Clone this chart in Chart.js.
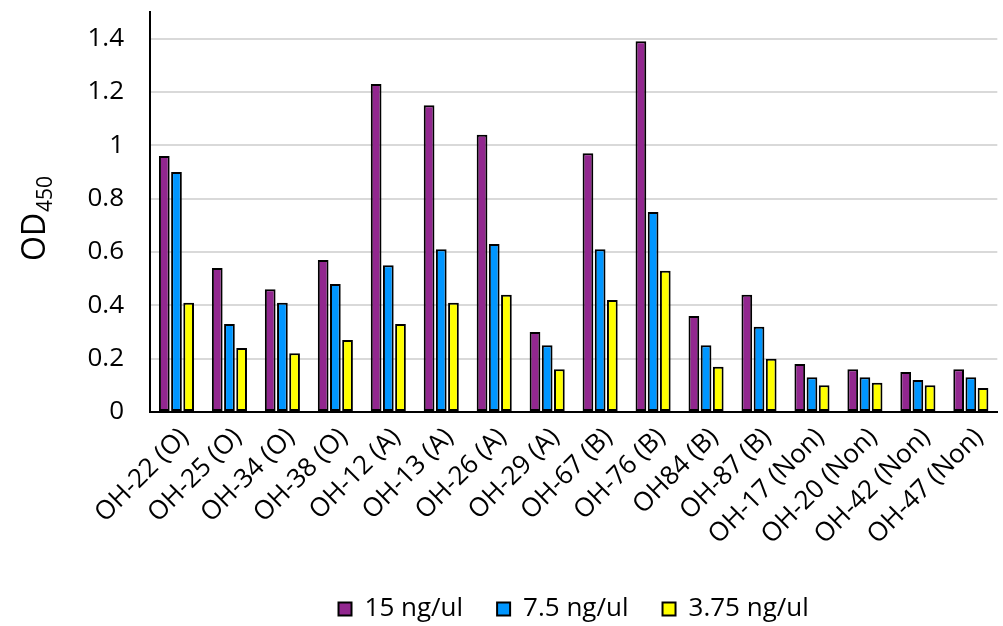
<!DOCTYPE html>
<html>
<head>
<meta charset="utf-8">
<script src="https://cdn.jsdelivr.net/npm/chart.js@4.4.1/dist/chart.umd.min.js"></script>
<style>
  html, body { margin: 0; padding: 0; background: #ffffff; }
  #wrap { width: 1003px; height: 626px; }
</style>
</head>
<body>
<div id="wrap"><canvas id="c" width="1003" height="626"></canvas></div>
<script>
const categories = ['OH-22 (O)', 'OH-25 (O)', 'OH-34 (O)', 'OH-38 (O)', 'OH-12 (A)', 'OH-13 (A)', 'OH-26 (A)', 'OH-29 (A)', 'OH-67 (B)', 'OH-76 (B)', 'OH84 (B)', 'OH-87 (B)', 'OH-17 (Non)', 'OH-20 (Non)', 'OH-42 (Non)', 'OH-47 (Non)'];
const seriesNames = ['15 ng/ul', '7.5 ng/ul', '3.75 ng/ul'];
const values15 = [0.96, 0.54, 0.46, 0.57, 1.23, 1.15, 1.04, 0.30, 0.97, 1.39, 0.36, 0.44, 0.18, 0.16, 0.15, 0.16];
const values75 = [0.90, 0.33, 0.41, 0.48, 0.55, 0.61, 0.63, 0.25, 0.61, 0.75, 0.25, 0.32, 0.13, 0.13, 0.12, 0.13];
const values375 = [0.41, 0.24, 0.22, 0.27, 0.33, 0.41, 0.44, 0.16, 0.42, 0.53, 0.17, 0.20, 0.10, 0.11, 0.10, 0.09];
const yTicks = [0, 0.2, 0.4, 0.6, 0.8, 1, 1.2, 1.4];
const yTitleMain = 'OD';
const yTitleSub = '450';

const colors = ['#92278F', '#0096FF', '#FFFF00'];
const FONT = "'Open Sans', 'DejaVu Sans', sans-serif";

const yTitlePlugin = {
  id: 'yTitle',
  afterDraw(chart) {
    const ctx = chart.ctx;
    ctx.save();
    ctx.translate(45, 261);
    ctx.rotate(-Math.PI / 2);
    ctx.fillStyle = '#000';
    ctx.textBaseline = 'alphabetic';
    ctx.textAlign = 'left';
    ctx.font = '32px ' + FONT;
    ctx.fillText(yTitleMain, 0, 0);
    const w = ctx.measureText(yTitleMain).width;
    ctx.font = '21px ' + FONT;
    ctx.fillText(yTitleSub, w + 1, 7);
    ctx.restore();
  }
};

const data = {
  labels: categories,
  datasets: [values15, values75, values375].map((vals, i) => ({
    label: seriesNames[i],
    data: vals,
    backgroundColor: colors[i],
    borderColor: '#000000',
    borderWidth: 2,
    borderSkipped: false,
    categoryPercentage: 0.69,
    barPercentage: 0.88
  }))
};

new Chart(document.getElementById('c'), {
  type: 'bar',
  data,
  plugins: [yTitlePlugin],
  options: {
    responsive: false,
    animation: false,
    devicePixelRatio: 1,
    layout: { padding: { top: 12, right: 3, left: 0, bottom: -6 } },
    plugins: {
      tooltip: { enabled: false },
      legend: {
        position: 'bottom',
        fullSize: false,
        labels: {
          color: '#000',
          font: { family: FONT, size: 26 },
          boxWidth: 13,
          boxHeight: 13,
          padding: 34,
          useBorderRadius: false
        }
      }
    },
    scales: {
      x: {
        grid: { display: false, drawTicks: false },
        border: { display: true, color: '#000', width: 2 },
        ticks: {
          color: '#000',
          font: { family: FONT, size: 26 },
          maxRotation: 45,
          minRotation: 45,
          autoSkip: false,
          padding: 10,
          labelOffset: 8
        },
        afterFit(scale) { scale.height = 150; }
      },
      y: {
        min: 0,
        max: 1.5,
        grid: { color: '#d9d9d9', lineWidth: 2, drawTicks: false },
        border: { display: true, color: '#000', width: 2 },
        ticks: {
          color: '#000',
          font: { family: FONT, size: 26 },
          padding: 26,
          stepSize: 0.2,
          callback: (v) => String(parseFloat(Number(v).toFixed(1)))
        },
        afterBuildTicks(scale) {
          scale.ticks = yTicks.map(v => ({ value: v }));
        },
        afterFit(scale) {
          scale.width = 150;
          scale.paddingTop = 0;
          scale.paddingBottom = 0;
        }
      }
    }
  }
});
</script>
</body>
</html>
